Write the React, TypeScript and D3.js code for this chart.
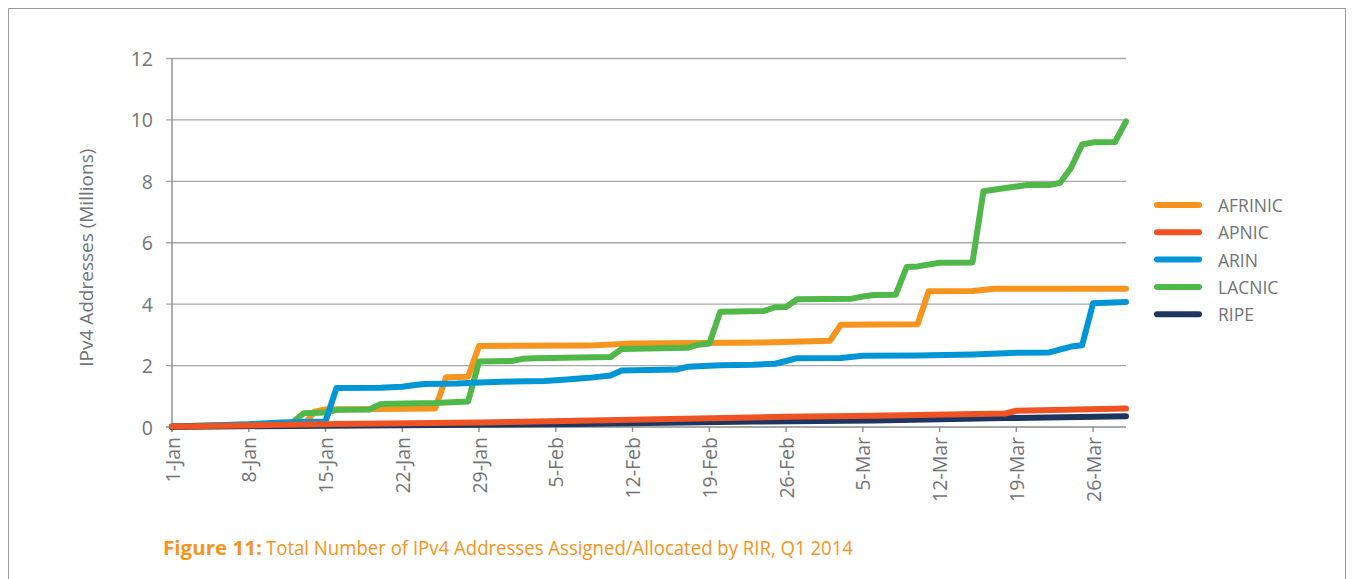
import React from 'react';
import * as d3 from 'd3';

// ---- data ----
const TICK_DATES = ['2014-01-01','2014-01-08','2014-01-15','2014-01-22','2014-01-29','2014-02-05','2014-02-12','2014-02-19','2014-02-26','2014-03-05','2014-03-12','2014-03-19','2014-03-26'];
const TICK_LABELS = ['1-Jan','8-Jan','15-Jan','22-Jan','29-Jan','5-Feb','12-Feb','19-Feb','26-Feb','5-Mar','12-Mar','19-Mar','26-Mar'];
const Y_TICKS = [0, 2, 4, 6, 8, 10, 12];
const SERIES_NAMES = ['AFRINIC', 'APNIC', 'ARIN', 'LACNIC', 'RIPE'];
const SERIES_COLORS = ['#F7941D', '#EF5323', '#0096D6', '#50B848', '#1C3660'];

const AFRINIC: [string, number][] = [
  ['2014-01-01', 0.0], ['2014-01-13', 0.05], ['2014-01-14', 0.5], ['2014-01-15', 0.57],
  ['2014-01-25', 0.6], ['2014-01-26', 1.62], ['2014-01-28', 1.64], ['2014-01-29', 2.64],
  ['2014-02-08', 2.65], ['2014-02-12', 2.72], ['2014-02-24', 2.75], ['2014-03-02', 2.81],
  ['2014-03-03', 3.33], ['2014-03-10', 3.35], ['2014-03-11', 4.42], ['2014-03-15', 4.43],
  ['2014-03-17', 4.5], ['2014-03-29', 4.5],
];
const APNIC: [string, number][] = [
  ['2014-01-01', 0.02], ['2014-01-16', 0.1], ['2014-01-29', 0.15], ['2014-02-07', 0.2],
  ['2014-02-26', 0.33], ['2014-03-06', 0.37], ['2014-03-18', 0.44], ['2014-03-19', 0.53],
  ['2014-03-29', 0.6],
];
const ARIN: [string, number][] = [
  ['2014-01-01', 0.02], ['2014-01-08', 0.09], ['2014-01-11', 0.15], ['2014-01-15', 0.18],
  ['2014-01-16', 1.27], ['2014-01-20', 1.28], ['2014-01-22', 1.31], ['2014-01-23', 1.36],
  ['2014-01-24', 1.4], ['2014-01-27', 1.42], ['2014-01-29', 1.45], ['2014-02-01', 1.48],
  ['2014-02-04', 1.5], ['2014-02-06', 1.55], ['2014-02-08', 1.6], ['2014-02-10', 1.68],
  ['2014-02-11', 1.84], ['2014-02-16', 1.87], ['2014-02-17', 1.96], ['2014-02-20', 2.01],
  ['2014-02-23', 2.03], ['2014-02-25', 2.06], ['2014-02-26', 2.15], ['2014-02-27', 2.24],
  ['2014-03-03', 2.25], ['2014-03-05', 2.32], ['2014-03-10', 2.33], ['2014-03-15', 2.36],
  ['2014-03-18', 2.4], ['2014-03-19', 2.42], ['2014-03-22', 2.43], ['2014-03-24', 2.62],
  ['2014-03-25', 2.66], ['2014-03-26', 4.03], ['2014-03-29', 4.07],
];
const LACNIC: [string, number][] = [
  ['2014-01-01', 0.02], ['2014-01-08', 0.08], ['2014-01-12', 0.15], ['2014-01-13', 0.45],
  ['2014-01-15', 0.47], ['2014-01-16', 0.56], ['2014-01-19', 0.57], ['2014-01-20', 0.74],
  ['2014-01-21', 0.76], ['2014-01-25', 0.78], ['2014-01-28', 0.83], ['2014-01-29', 2.13],
  ['2014-02-01', 2.15], ['2014-02-02', 2.22], ['2014-02-03', 2.24], ['2014-02-10', 2.28],
  ['2014-02-11', 2.54], ['2014-02-17', 2.58], ['2014-02-18', 2.68], ['2014-02-19', 2.72],
  ['2014-02-20', 3.75], ['2014-02-24', 3.78], ['2014-02-25', 3.9], ['2014-02-26', 3.91],
  ['2014-02-27', 4.16], ['2014-03-04', 4.18], ['2014-03-05', 4.25], ['2014-03-06', 4.3],
  ['2014-03-08', 4.31], ['2014-03-09', 5.21], ['2014-03-10', 5.23], ['2014-03-12', 5.35],
  ['2014-03-15', 5.36], ['2014-03-16', 7.68], ['2014-03-18', 7.78], ['2014-03-20', 7.88],
  ['2014-03-22', 7.88], ['2014-03-23', 7.95], ['2014-03-24', 8.45], ['2014-03-25', 9.2],
  ['2014-03-26', 9.27], ['2014-03-28', 9.28], ['2014-03-29', 9.95],
];
const RIPE: [string, number][] = [
  ['2014-01-01', 0.01], ['2014-02-07', 0.1], ['2014-02-23', 0.18], ['2014-03-06', 0.21],
  ['2014-03-18', 0.29], ['2014-03-29', 0.35],
];
const SERIES_DATA = [AFRINIC, APNIC, ARIN, LACNIC, RIPE];
const DRAW_ORDER = [0, 3, 2, 4, 1];

const X_DOMAIN = ['2014-01-01', '2014-03-29'];
const CAPTION_BOLD = 'Figure 11:';
const CAPTION_REST = 'Total Number of IPv4 Addresses Assigned/Allocated by RIR, Q1 2014';
const Y_TITLE = 'IPv4 Addresses (Millions)';

const parse = d3.utcParse('%Y-%m-%d');
const FONT = "'Open Sans', sans-serif";
const TEXT_COLOR = '#737477';

export default function App() {
  const x = d3.scaleUtc().domain(X_DOMAIN.map((s) => parse(s) as Date)).range([172, 1126]);
  const y = d3.scaleLinear().domain([0, 12]).range([427, 58.5]);
  const line = d3
    .line<[string, number]>()
    .x((d) => x(parse(d[0]) as Date))
    .y((d) => y(d[1]))
    .curve(d3.curveLinear);

  const gridX0 = 166;
  const gridX1 = 1126;

  return (
    <svg
      width={1352}
      height={579}
      style={{ position: 'absolute', left: 0, top: 0, background: '#fff' }}
      fontFamily={FONT}
    >
      <rect x={8.5} y={8.5} width={1337} height={620} fill="none" stroke="#9a9a9a" strokeWidth={1} />

      {/* gridlines */}
      {Y_TICKS.filter((v) => v > 0).map((v) => (
        <line key={'g' + v} x1={gridX0} x2={gridX1} y1={y(v)} y2={y(v)} stroke="#a8a8a8" strokeWidth={1.4} />
      ))}
      {/* axes */}
      <line x1={172} x2={172} y1={y(12)} y2={432} stroke="#8c8c8c" strokeWidth={1.4} />
      <line x1={gridX0} x2={gridX1} y1={y(0)} y2={y(0)} stroke="#8c8c8c" strokeWidth={1.4} />
      {TICK_DATES.map((d) => {
        const px = x(parse(d) as Date);
        return <line key={'t' + d} x1={px} x2={px} y1={y(0)} y2={y(0) + 5} stroke="#8c8c8c" strokeWidth={1.4} />;
      })}

      {/* y tick labels */}
      {Y_TICKS.map((v) => (
        <text key={'yl' + v} x={153} y={y(v)} textAnchor="end" dominantBaseline="central" fontSize={19.5} fill={TEXT_COLOR}>
          {v}
        </text>
      ))}
      {/* x tick labels */}
      {TICK_DATES.map((d, i) => {
        const px = x(parse(d) as Date);
        return (
          <text
            key={'xl' + d}
            transform={`translate(${px},437) rotate(-90)`}
            textAnchor="end"
            dominantBaseline="central"
            fontSize={19.5}
            fill={TEXT_COLOR}
          >
            {TICK_LABELS[i]}
          </text>
        );
      })}
      {/* y title */}
      <text
        transform={`translate(86,${(y(0) + y(12)) / 2 + 15}) rotate(-90)`}
        textAnchor="middle"
        dominantBaseline="central"
        fontSize={19}
        fill={TEXT_COLOR}
      >
        {Y_TITLE}
      </text>

      {/* series */}
      {DRAW_ORDER.map((i) => (
        <path
          key={'s' + i}
          d={line(SERIES_DATA[i]) || ''}
          fill="none"
          stroke={SERIES_COLORS[i]}
          strokeWidth={6}
          strokeLinejoin="round"
          strokeLinecap="round"
        />
      ))}

      {/* legend */}
      {SERIES_NAMES.map((name, i) => {
        const ly = 205 + i * 27.3;
        return (
          <g key={'lg' + name}>
            <line x1={1157} x2={1199} y1={ly} y2={ly} stroke={SERIES_COLORS[i]} strokeWidth={6} strokeLinecap="round" />
            <text x={1218} y={ly} dominantBaseline="central" fontSize={17.5} fill={TEXT_COLOR}>
              {name}
            </text>
          </g>
        );
      })}

      {/* caption */}
      <text x={163} y={555} fontSize={20} fontWeight={700} fill="#F7941D" textLength={99} lengthAdjust="spacingAndGlyphs">
        {CAPTION_BOLD}
      </text>
      <text x={266} y={555} fontSize={20} fill="#F7941D" textLength={587} lengthAdjust="spacingAndGlyphs">
        {CAPTION_REST}
      </text>
    </svg>
  );
}
